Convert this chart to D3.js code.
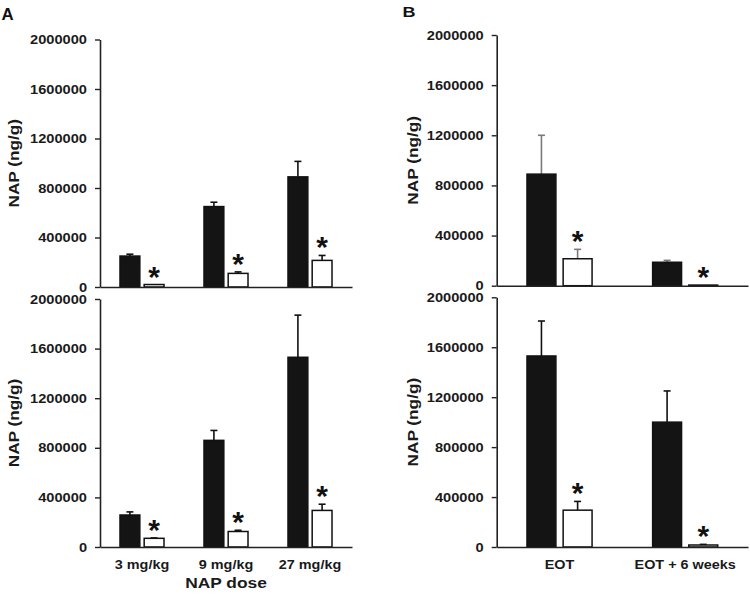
<!DOCTYPE html>
<html><head><meta charset="utf-8">
<script src="https://cdn.jsdelivr.net/npm/d3@7"></script>
<style>body{margin:0;background:#fff}</style>
</head><body><svg id="c" width="750" height="600"></svg>
<script>
// ---- data ----
const doseCategories = ["3 mg/kg", "9 mg/kg", "27 mg/kg"];
const timeCategories = ["EOT", "EOT + 6 weeks"];
const yTicks = [0, 400000, 800000, 1200000, 1600000, 2000000];

const aTopBlack = [250000, 650000, 890000];
const aTopBlackErr = [15000, 35000, 125000];
const aTopWhite = [20000, 110000, 215000];
const aTopWhiteErr = [0, 12000, 40000];

const aBotBlack = [258000, 860000, 1530000];
const aBotBlackErr = [25000, 80000, 340000];
const aBotWhite = [70000, 125000, 295000];
const aBotWhiteErr = [3000, 10000, 50000];

const bTopBlack = [890000, 187000];
const bTopBlackErr = [310000, 15000];
const bTopWhite = [215000, 5000];
const bTopWhiteErr = [75000, 0];

const bBotBlack = [1530000, 1000000];
const bBotBlackErr = [280000, 250000];
const bBotWhite = [295000, 16000];
const bBotWhiteErr = [70000, 5000];

const yTitle = "NAP (ng/g)";
const xTitleA = "NAP dose";
const panelLetters = ["A", "B"];

// ---- drawing ----
const svg = d3.select("#c");
const FONT = "'Liberation Sans', Arial, sans-serif";
const STAR_FONT = "'Liberation Sans'";

function stretch(sel, f) {
  sel.each(function () {
    const L = this.getComputedTextLength();
    this.setAttribute("textLength", L * f);
    this.setAttribute("lengthAdjust", "spacingAndGlyphs");
  });
}

// asterisk metrics via canvas
const ctx = document.createElement("canvas").getContext("2d");
const starBase = 30;
ctx.font = `bold ${starBase}px ${STAR_FONT}`;
const sm = ctx.measureText("*");
const inkH = sm.actualBoundingBoxAscent + sm.actualBoundingBoxDescent;
const starSize = starBase * 12 / inkH;
const starDesc = sm.actualBoundingBoxDescent * starSize / starBase;

function panel(o) {
  const y = d3.scaleLinear().domain([0, 2000000]).range([o.y0, o.y1]);
  const x = d3.scaleBand().domain(o.cats).range([o.xl, o.xr])
    .paddingInner(o.p).paddingOuter(o.p / 2);
  const xi = d3.scaleBand().domain(["black", "white"]).range([0, x.bandwidth()]).paddingInner(o.ip);
  const g = svg.append("g");

  const rows = o.cats.map((c, i) => ({
    c, black: o.black[i], blackErr: o.blackErr[i], white: o.white[i], whiteErr: o.whiteErr[i]
  }));

  const bars = [];
  rows.forEach(r => {
    bars.push({ c: r.c, k: "black", v: r.black, e: r.blackErr });
    bars.push({ c: r.c, k: "white", v: r.white, e: r.whiteErr });
  });

  // error bars (behind bars)
  const eg = g.append("g").attr("stroke", o.errColor).attr("stroke-width", 1.6).attr("fill", "none");
  bars.filter(d => d.e > 0).forEach(d => {
    const cx = x(d.c) + xi(d.k) + xi.bandwidth() / 2;
    eg.append("line").attr("x1", cx).attr("x2", cx).attr("y1", y(d.v)).attr("y2", y(d.v + d.e));
    eg.append("line").attr("x1", cx - 3.5).attr("x2", cx + 3.5).attr("y1", y(d.v + d.e)).attr("y2", y(d.v + d.e));
  });

  g.append("g").selectAll("rect").data(bars).join("rect")
    .attr("x", d => x(d.c) + xi(d.k))
    .attr("width", xi.bandwidth())
    .attr("y", d => y(d.v))
    .attr("height", d => y(0) - y(d.v))
    .attr("fill", d => d.k === "black" ? "#141414" : "#fff")
    .attr("stroke", "#111")
    .attr("stroke-width", 1.5);

  // asterisks over white bars
  g.append("g").selectAll("text").data(bars.filter(d => d.k === "white")).join("text")
    .attr("x", d => x(d.c) + xi(d.k) + xi.bandwidth() / 2)
    .attr("y", d => y(d.v + d.e) - 6 - starDesc)
    .attr("text-anchor", "middle")
    .attr("font-family", STAR_FONT)
    .attr("font-weight", "bold")
    .attr("font-size", starSize)
    .attr("fill", "#111")
    .text("*");

  // y axis
  const ay = g.append("g").attr("transform", `translate(${o.xl},0)`)
    .call(d3.axisLeft(y).tickValues(yTicks).tickFormat(d3.format("d")).tickSize(5).tickSizeOuter(0).tickPadding(8));
  ay.select(".domain").attr("stroke", "#222").attr("stroke-width", 1.6);
  ay.selectAll(".tick line").attr("stroke", "#222").attr("stroke-width", 1.4);
  ay.selectAll(".tick text").attr("font-family", FONT).attr("font-weight", "bold")
    .attr("font-size", 12.5).attr("fill", "#1a1a1a").call(stretch, 1.17);

  // x axis
  const axb = d3.axisBottom(x).tickSize(0).tickSizeOuter(0).tickPadding(13);
  if (!o.labels) axb.tickFormat(() => "");
  const ax = g.append("g").attr("transform", `translate(0,${y(0)})`).call(axb);
  ax.select(".domain").attr("stroke", "#222").attr("stroke-width", 1.6);
  ax.selectAll(".tick text").attr("font-family", FONT).attr("font-weight", "bold")
    .attr("font-size", 12).attr("fill", "#1a1a1a");
  if (o.labels) ax.selectAll(".tick text").call(stretch, 1.2);

  // y title
  const cy = (o.y0 + o.y1) / 2;
  g.append("text").attr("transform", `translate(${o.tx},${cy}) rotate(-90)`)
    .attr("text-anchor", "middle").attr("font-family", FONT).attr("font-weight", "bold")
    .attr("font-size", 14).attr("fill", "#1a1a1a").text(yTitle).call(stretch, 1.23);
}

panel({ cats: doseCategories, black: aTopBlack, blackErr: aTopBlackErr, white: aTopWhite, whiteErr: aTopWhiteErr,
  xl: 100, xr: 352, y0: 287, y1: 39.5, p: 0.476, ip: 0.18, errColor: "#111", labels: false, tx: 19 });
panel({ cats: doseCategories, black: aBotBlack, blackErr: aBotBlackErr, white: aBotWhite, whiteErr: aBotWhiteErr,
  xl: 100, xr: 352, y0: 547, y1: 299, p: 0.476, ip: 0.18, errColor: "#111", labels: true, tx: 19 });
panel({ cats: timeCategories, black: bTopBlack, blackErr: bTopBlackErr, white: bTopWhite, whiteErr: bTopWhiteErr,
  xl: 496.7, xr: 748, y0: 285.7, y1: 35, p: 0.482, ip: 0.2, errColor: "#7a7a7a", labels: false, tx: 418 });
panel({ cats: timeCategories, black: bBotBlack, blackErr: bBotBlackErr, white: bBotWhite, whiteErr: bBotWhiteErr,
  xl: 496.7, xr: 748, y0: 547, y1: 297.3, p: 0.482, ip: 0.2, errColor: "#111", labels: true, tx: 418 });

// x title
svg.append("text").attr("x", 226).attr("y", 588).attr("text-anchor", "middle")
  .attr("font-family", FONT).attr("font-weight", "bold").attr("font-size", 14).attr("fill", "#1a1a1a")
  .text(xTitleA).call(stretch, 1.24);

// panel letters
svg.append("text").attr("x", 1.5).attr("y", 20).attr("font-family", FONT).attr("font-weight", "bold")
  .attr("font-size", 16).attr("fill", "#111").text(panelLetters[0]).call(stretch, 1.05);
svg.append("text").attr("x", 402.5).attr("y", 17.3).attr("font-family", FONT).attr("font-weight", "bold")
  .attr("font-size", 15).attr("fill", "#111").text(panelLetters[1]).call(stretch, 1.2);
</script>
</body></html>
